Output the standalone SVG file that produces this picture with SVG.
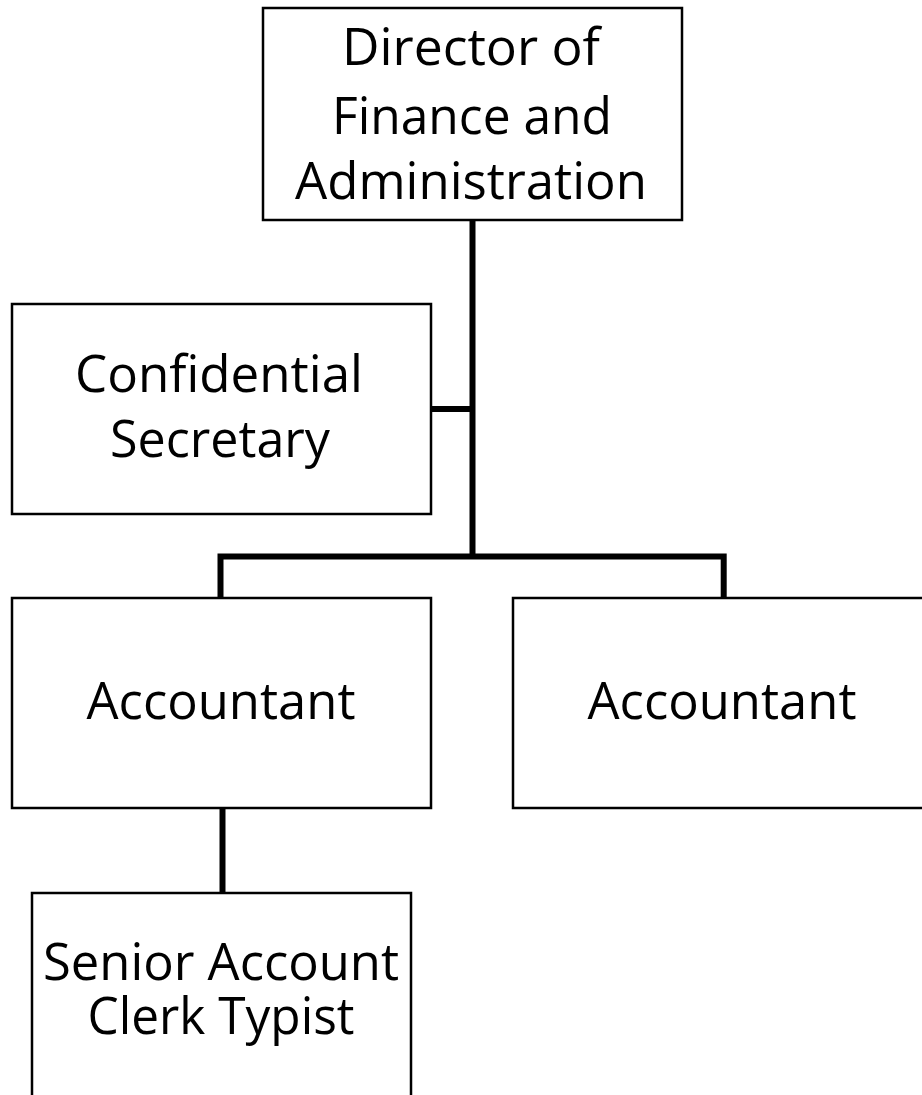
<svg xmlns="http://www.w3.org/2000/svg" width="922" height="1095" viewBox="0 0 922 1095">
<style>
.box{fill:#fff;stroke:#000;stroke-width:2.5}
.lbl{font-family:"Open Sans","Noto Sans","DejaVu Sans",sans-serif;font-size:52px;fill:#000;text-anchor:middle}
.con{fill:none;stroke:#000;stroke-width:6;stroke-linejoin:miter}
</style>
<rect width="922" height="1095" fill="#fff"/>
<g id="connectors">
<path class="con" d="M472.5,220 V559"/>
<path class="con" d="M431,409 H472.5"/>
<path class="con" d="M220.5,598 V556.5 H723.7 V598"/>
<path class="con" d="M222.5,808 V893"/>
</g>
<g id="director">
<rect class="box" x="263" y="8" width="419" height="212"/>
<text class="lbl" x="471" y="65" textLength="258" lengthAdjust="spacingAndGlyphs">Director of</text>
<text class="lbl" x="472" y="134" textLength="280" lengthAdjust="spacingAndGlyphs">Finance and</text>
<text class="lbl" x="471" y="199" textLength="352" lengthAdjust="spacingAndGlyphs">Administration</text>
</g>
<g id="secretary">
<rect class="box" x="12" y="304" width="419" height="210"/>
<text class="lbl" x="219" y="392" textLength="288" lengthAdjust="spacingAndGlyphs">Confidential</text>
<text class="lbl" x="220" y="457" textLength="220" lengthAdjust="spacingAndGlyphs">Secretary</text>
</g>
<g id="accountant1">
<rect class="box" x="12" y="598" width="419" height="210"/>
<text class="lbl" x="221" y="719" textLength="269" lengthAdjust="spacingAndGlyphs">Accountant</text>
</g>
<g id="accountant2">
<rect class="box" x="513" y="598" width="419" height="210"/>
<text class="lbl" x="722" y="719" textLength="269" lengthAdjust="spacingAndGlyphs">Accountant</text>
</g>
<g id="clerk">
<rect class="box" x="32" y="893" width="379" height="230"/>
<text class="lbl"><tspan x="221" y="980" textLength="356" lengthAdjust="spacingAndGlyphs">Senior Account</tspan><tspan x="221" y="1034" textLength="267" lengthAdjust="spacingAndGlyphs">Clerk Typist</tspan></text>
</g>
</svg>
